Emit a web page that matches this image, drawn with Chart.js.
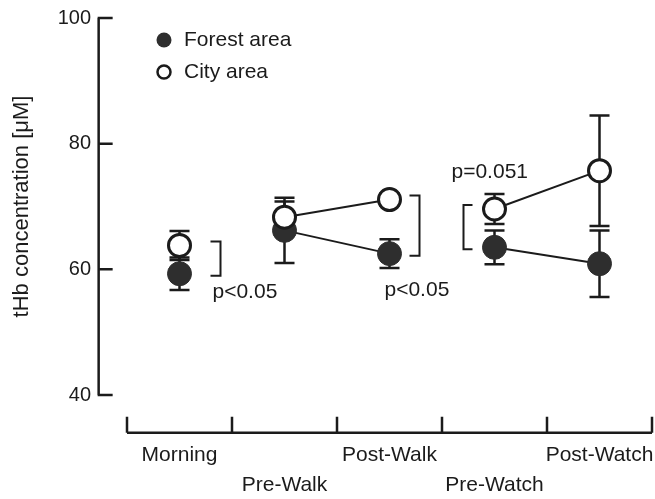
<!DOCTYPE html>
<html>
<head>
<meta charset="utf-8">
<script src="https://cdn.jsdelivr.net/npm/chart.js@4/dist/chart.umd.min.js"></script>
<style>
  html, body { margin: 0; padding: 0; background: #fff; }
  #wrap { width: 655px; height: 499px; }
</style>
</head>
<body>
<div id="wrap"><canvas id="thbChart"></canvas></div>
<script>
const categories = ['Morning', 'Pre-Walk', 'Post-Walk', 'Pre-Watch', 'Post-Watch'];
const forestMean = [59.3, 66.2, 62.5, 63.5, 60.9];
const forestErr = [2.6, 5.2, 2.3, 2.7, 5.3];
const cityMean = [63.8, 68.3, 71.1, 69.6, 75.7];
const cityErr = [2.3, 2.5, 1.0, 2.4, 8.8];
const yTicks = [40, 60, 80, 100];
const pAt = [0, 2, 3];
const pLabels = ['p<0.05', 'p<0.05', 'p=0.051'];
const joinedFrom = [1, 3]; // a line runs from these points to the next one

const ink = '#1b1b1b';
const family = '"Liberation Sans", Arial, sans-serif';

// bracket + p label placement around each compared category (px from centre, label y in data units)
const pPlace = [
  { bx: 41, arm: -10, tx: 33, ty: 56.3 },
  { bx: 30, arm: -10, tx: -5, ty: 56.6 },
  { bx: -31, arm: 9, tx: -43, ty: 75.4 }
];

const sciPlugin = {
  id: 'sciPlugin',
  beforeDatasetsDraw(chart) {
    const { ctx, scales: { x, y } } = chart;
    ctx.save();
    ctx.strokeStyle = ink;
    ctx.lineWidth = 2.5;
    [[forestMean, forestErr], [cityMean, cityErr]].forEach(([m, e]) => {
      m.forEach((v, i) => {
        const px = x.getPixelForValue(i);
        const top = y.getPixelForValue(v + e[i]);
        const bot = y.getPixelForValue(v - e[i]);
        ctx.beginPath();
        ctx.moveTo(px, top); ctx.lineTo(px, bot);
        ctx.moveTo(px - 10, top); ctx.lineTo(px + 10, top);
        ctx.moveTo(px - 10, bot); ctx.lineTo(px + 10, bot);
        ctx.stroke();
      });
    });
    ctx.restore();
  },
  afterDraw(chart) {
    const { ctx, chartArea, scales: { x, y } } = chart;
    ctx.save();
    ctx.strokeStyle = ink;
    ctx.fillStyle = ink;
    ctx.lineWidth = 2.5;

    // detached y axis with inward ticks
    const ax = x.getPixelForValue(-0.77);
    ctx.beginPath();
    ctx.moveTo(ax, y.getPixelForValue(100));
    ctx.lineTo(ax, y.getPixelForValue(40));
    yTicks.forEach(t => {
      const py = y.getPixelForValue(t);
      ctx.moveTo(ax - 1, py); ctx.lineTo(ax + 14, py);
    });
    ctx.stroke();

    // detached x axis with upward ticks at the category borders
    const ay = y.getPixelForValue(34);
    ctx.beginPath();
    ctx.moveTo(chartArea.left, ay);
    ctx.lineTo(chartArea.right, ay);
    for (let i = 0; i <= categories.length; i++) {
      const px = x.getPixelForValue(i - 0.5);
      ctx.moveTo(px, ay); ctx.lineTo(px, ay - 16);
    }
    ctx.stroke();

    // brackets and p values
    ctx.lineWidth = 2;
    ctx.font = '21px ' + family;
    ctx.textBaseline = 'middle';
    ctx.textAlign = 'left';
    pAt.forEach((idx, k) => {
      const pl = pPlace[k];
      const cx = x.getPixelForValue(idx);
      const bx = cx + pl.bx;
      const y1 = y.getPixelForValue(cityMean[idx]) - 4;
      const y2 = y.getPixelForValue(forestMean[idx]) + 2;
      ctx.beginPath();
      ctx.moveTo(bx + pl.arm, y1); ctx.lineTo(bx, y1);
      ctx.lineTo(bx, y2); ctx.lineTo(bx + pl.arm, y2);
      ctx.stroke();
      ctx.fillText(pLabels[k], cx + pl.tx, y.getPixelForValue(pl.ty));
    });

    // legend
    const lx = chartArea.left + 37;
    chart.data.datasets.forEach((ds, i) => {
      const ly = chartArea.top + 22 + i * 32;
      ctx.beginPath();
      ctx.arc(lx, ly, i === 0 ? 7.5 : 6.5, 0, Math.PI * 2);
      if (i === 0) { ctx.fillStyle = '#2e2e2e'; ctx.fill(); }
      else { ctx.lineWidth = 2.5; ctx.stroke(); }
      ctx.fillStyle = ink;
      ctx.fillText(ds.label, lx + 20, ly);
    });
    ctx.restore();
  }
};

const joinColor = c => joinedFrom.includes(c.p0DataIndex) ? ink : 'rgba(0,0,0,0)';

new Chart(document.getElementById('thbChart'), {
  type: 'line',
  data: {
    labels: categories,
    datasets: [
      {
        label: 'Forest area',
        data: forestMean,
        order: 1,
        borderColor: ink,
        borderWidth: 2,
        pointRadius: 12,
        pointBackgroundColor: '#2e2e2e',
        pointBorderColor: '#2e2e2e',
        pointBorderWidth: 1,
        segment: { borderColor: joinColor }
      },
      {
        label: 'City area',
        data: cityMean,
        order: 0,
        borderColor: ink,
        borderWidth: 2,
        pointRadius: 11,
        pointBackgroundColor: '#fff',
        pointBorderColor: ink,
        pointBorderWidth: 3,
        segment: { borderColor: joinColor }
      }
    ]
  },
  options: {
    responsive: true,
    maintainAspectRatio: false,
    animation: false,
    layout: { autoPadding: false, padding: { left: 5, right: 3, top: 2, bottom: 0 } },
    plugins: {
      legend: { display: false },
      tooltip: { enabled: false }
    },
    scales: {
      x: {
        offset: true,
        afterFit: s => { s.height = 104; },
        grid: { display: false, drawTicks: true, tickLength: 55 },
        border: { display: false },
        ticks: {
          autoSkip: false,
          maxRotation: 0,
          padding: -10,
          color: ink,
          font: { size: 21, family: family, lineHeight: 1.43 },
          callback: (v, i) => i % 2 ? ['', categories[i]] : [categories[i], '']
        }
      },
      y: {
        min: 40,
        max: 100,
        afterBuildTicks: s => { s.ticks = yTicks.map(v => ({ value: v })); },
        afterFit: s => { s.width = 122; },
        grid: { display: false, drawTicks: true, tickLength: 30 },
        border: { display: false },
        ticks: { padding: 6, color: ink, font: { size: 20, family: family } },
        title: {
          display: true,
          text: 'tHb concentration [μM]',
          color: ink,
          font: { size: 22, family: family },
          padding: 4
        }
      }
    }
  },
  plugins: [sciPlugin]
});
</script>
</body>
</html>
